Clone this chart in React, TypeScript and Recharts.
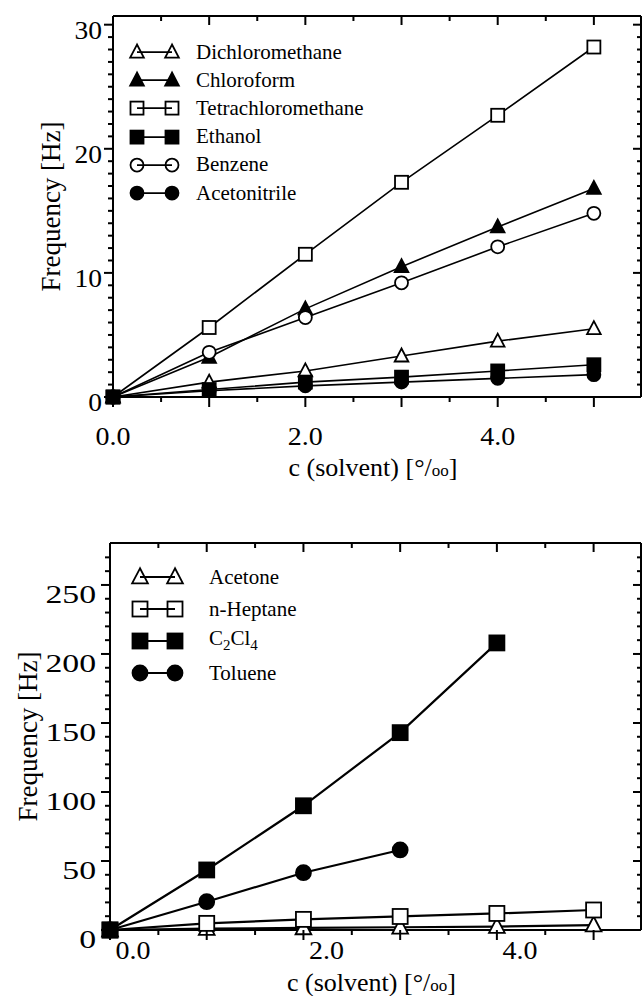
import React from 'react';
import { LineChart, Line, XAxis, YAxis, Legend } from 'recharts';

const FONT = 'Liberation Serif, Tinos, DejaVu Serif, serif';

// upper panel: c (solvent) in per mille vs. frequency shift in Hz
const concUpper = [0, 1, 2, 3, 4, 5];
const dichloromethane = [0, 1.2, 2.1, 3.3, 4.5, 5.5];
const chloroform = [0, 3.2, 7.1, 10.5, 13.7, 16.8];
const tetrachloromethane = [0, 5.6, 11.5, 17.3, 22.7, 28.2];
const ethanol = [0, 0.6, 1.2, 1.6, 2.1, 2.6];
const benzene = [0, 3.6, 6.4, 9.2, 12.1, 14.8];
const acetonitrile = [0, 0.5, 0.9, 1.2, 1.5, 1.8];

// lower panel
const concLower = [0, 1, 2, 3, 4, 5];
const acetone = [0, 1.0, 1.5, 2.0, 2.5, 3.5];
const nHeptane = [0, 4.8, 7.7, 9.8, 12.0, 14.5];
const c2cl4 = [0, 43.5, 90, 143, 208, null];
const toluene = [0, 20.5, 41.5, 58, null, null];

const xLabelTicks = [0, 2, 4];
const yLabelTicksUpper = [0, 10, 20, 30];
const yLabelTicksLower = [0, 50, 100, 150, 200, 250];

type Shape = 'triangle' | 'square' | 'circle';

interface Series {
  key: string;
  label: React.ReactNode;
  values: (number | null)[];
  shape: Shape;
  filled: boolean;
}

const upperSeries: Series[] = [
  { key: 'dichloromethane', label: 'Dichloromethane', values: dichloromethane, shape: 'triangle', filled: false },
  { key: 'chloroform', label: 'Chloroform', values: chloroform, shape: 'triangle', filled: true },
  { key: 'tetrachloromethane', label: 'Tetrachloromethane', values: tetrachloromethane, shape: 'square', filled: false },
  { key: 'ethanol', label: 'Ethanol', values: ethanol, shape: 'square', filled: true },
  { key: 'benzene', label: 'Benzene', values: benzene, shape: 'circle', filled: false },
  { key: 'acetonitrile', label: 'Acetonitrile', values: acetonitrile, shape: 'circle', filled: true },
];

const lowerSeries: Series[] = [
  { key: 'acetone', label: 'Acetone', values: acetone, shape: 'triangle', filled: false },
  { key: 'nHeptane', label: 'n-Heptane', values: nHeptane, shape: 'square', filled: false },
  {
    key: 'c2cl4',
    label: (
      <>
        C<sub style={{ fontSize: 15 }}>2</sub>Cl<sub style={{ fontSize: 15 }}>4</sub>
      </>
    ),
    values: c2cl4,
    shape: 'square',
    filled: true,
  },
  { key: 'toluene', label: 'Toluene', values: toluene, shape: 'circle', filled: true },
];

function buildRows(xs: number[], series: Series[]) {
  return xs.map((c, i) => {
    const row: Record<string, number | null> = { c };
    series.forEach((s) => {
      row[s.key] = s.values[i];
    });
    return row;
  });
}

const upperRows = buildRows(concUpper, upperSeries);
const lowerRows = buildRows(concLower, lowerSeries);

// tick positions (minor + major)
const halfSteps: number[] = [];
for (let i = 0; i <= 10; i++) halfSteps.push(i * 0.5);
const upperYTicks: number[] = [];
for (let i = 0; i <= 30; i++) upperYTicks.push(i);
const lowerYTicks: number[] = [];
for (let i = 0; i <= 27; i++) lowerYTicks.push(i * 10);

const axisStyle = { stroke: '#000', strokeWidth: 2 };

function Marker({ cx, cy, shape, filled, size, openFill = '#fff' }: {
  cx: number; cy: number; shape: Shape; filled: boolean; size: number; openFill?: string;
}) {
  const h = size / 2;
  const paint = { fill: filled ? '#000' : openFill, stroke: '#000', strokeWidth: 1.8 };
  if (shape === 'square') {
    return <rect x={cx - h} y={cy - h} width={size} height={size} {...paint} />;
  }
  if (shape === 'circle') {
    return <circle cx={cx} cy={cy} r={h} {...paint} />;
  }
  const pts = `${cx},${cy - size * 0.58} ${cx - h * 1.05},${cy + size * 0.42} ${cx + h * 1.05},${cy + size * 0.42}`;
  return <polygon points={pts} strokeLinejoin="miter" {...paint} />;
}

const dotFor = (s: Series, size: number) => (p: any) => {
  const k = `${s.key}-${p.index}`;
  if (p.cx == null || p.cy == null || p.value == null) return <g key={k} />;
  return (
    <g key={k}>
      <Marker cx={p.cx} cy={p.cy} shape={s.shape} filled={s.filled} size={size} />
    </g>
  );
};

function PanelLegend({ items, rowH, size, x1, x2, textX }: {
  items: Series[]; rowH: number; size: number; x1: number; x2: number; textX: number;
}) {
  return (
    <div style={{ fontFamily: FONT, fontSize: 21, color: '#000' }}>
      {items.map((s) => (
        <div key={s.key} style={{ display: 'flex', alignItems: 'center', height: rowH }}>
          <svg width={textX} height={rowH} style={{ flex: 'none' }}>
            <line x1={x1} x2={x2} y1={rowH / 2} y2={rowH / 2} stroke="#000" strokeWidth={1.8} />
            <Marker cx={x1} cy={rowH / 2} shape={s.shape} filled={s.filled} size={size} openFill="none" />
            <Marker cx={x2} cy={rowH / 2} shape={s.shape} filled={s.filled} size={size} openFill="none" />
          </svg>
          <span style={{ whiteSpace: 'nowrap', lineHeight: 1 }}>{s.label}</span>
        </div>
      ))}
    </div>
  );
}

// the scanned figure has slightly widened tick numerals
function WideText({ x, y, anchor, stretch, children }: {
  x: number; y: number; anchor: 'end' | 'middle'; stretch: number; children: React.ReactNode;
}) {
  return (
    <g transform={`translate(${x} ${y}) scale(${stretch} 1)`}>
      <text x={0} y={0} textAnchor={anchor} dominantBaseline="central" fontFamily={FONT} fontSize={25} fill="#000">
        {children}
      </text>
    </g>
  );
}

// bottom x axis: ticks hang below the line, labels at 0.0 / 2.0 / 4.0
const bottomTick = (labelDy: number, labelDx: number) => (p: any) => {
  const v = p.payload.value;
  const major = Number.isInteger(v);
  const labelled = xLabelTicks.includes(v);
  return (
    <g>
      <line x1={p.x} x2={p.x} y1={p.y} y2={p.y + (major ? 10 : 5)} stroke="#000" strokeWidth={2} />
      {labelled && (
        <WideText x={p.x + labelDx} y={p.y + labelDy} anchor="middle" stretch={1.12}>
          {v.toFixed(1)}
        </WideText>
      )}
    </g>
  );
};

const topTick = (p: any) => {
  const major = Number.isInteger(p.payload.value);
  return <line x1={p.x} x2={p.x} y1={p.y} y2={p.y + (major ? 9 : 5)} stroke="#000" strokeWidth={2} />;
};

const leftTick = (labels: number[], gap: number, dy: number, stretch: number) => (p: any) => {
  const v = p.payload.value;
  const major = labels.includes(v);
  return (
    <g>
      <line x1={p.x - (major ? 9 : 5)} x2={p.x} y1={p.y} y2={p.y} stroke="#000" strokeWidth={2} />
      {major && (
        <WideText x={p.x - gap} y={p.y + dy} anchor="end" stretch={stretch}>
          {v}
        </WideText>
      )}
    </g>
  );
};

const rightTick = (labels: number[]) => (p: any) => {
  const major = labels.includes(p.payload.value);
  return <line x1={p.x - (major ? 8 : 4)} x2={p.x} y1={p.y} y2={p.y} stroke="#000" strokeWidth={2} />;
};

const xTitle = (dy: number) => (p: any) => {
  const vb = p.viewBox;
  return (
    <text x={vb.x + vb.width / 2 - 4} y={vb.y + dy} textAnchor="middle" dominantBaseline="central"
      fontFamily={FONT} fontSize={26} fill="#000">
      c (solvent) [°/<tspan fontSize={17} dy={3}>oo</tspan><tspan dy={-3}>]</tspan>
    </text>
  );
};

const yTitle = (cx: number) => (p: any) => {
  const vb = p.viewBox;
  const cy = vb.y + vb.height / 2;
  return (
    <text x={cx} y={cy} transform={`rotate(-90 ${cx} ${cy})`} textAnchor="middle" dominantBaseline="central"
      fontFamily={FONT} fontSize={27} fill="#000">
      Frequency [Hz]
    </text>
  );
};

function Panel({ rows, series, yMax, yTicks, yLabels, height, margin, xAxisH, yAxisW, lineW, markSize,
  xLabelDy, xLabelDx, xTitleDy, yLabelGap, yLabelDy, yStretch, yTitleX, legend }: any) {
  return (
    <LineChart width={643} height={height} data={rows} margin={margin}>
      <XAxis xAxisId="b" type="number" dataKey="c" domain={[0, 5.49]} ticks={halfSteps} interval={0}
        tickSize={0} tickMargin={0} tickLine={false} axisLine={axisStyle} height={xAxisH}
        tick={bottomTick(xLabelDy, xLabelDx)} label={{ content: xTitle(xTitleDy) }} />
      <XAxis xAxisId="t" orientation="top" type="number" dataKey="c" domain={[0, 5.49]} ticks={halfSteps}
        interval={0} tickSize={0} tickMargin={0} tickLine={false} axisLine={axisStyle} height={1} tick={topTick} />
      <YAxis yAxisId="l" type="number" domain={[0, yMax]} ticks={yTicks} interval={0} tickSize={0}
        tickMargin={0} tickLine={false} axisLine={axisStyle} width={yAxisW}
        tick={leftTick(yLabels, yLabelGap, yLabelDy, yStretch)} label={{ content: yTitle(yTitleX) }} />
      <YAxis yAxisId="r" orientation="right" type="number" domain={[0, yMax]} ticks={yTicks} interval={0}
        tickSize={0} tickMargin={0} tickLine={false} axisLine={axisStyle} width={1} tick={rightTick(yLabels)} />
      <Legend layout="vertical" align="center" verticalAlign="middle"
        wrapperStyle={{ left: legend.left, top: legend.top, width: 'auto', height: 'auto' }}
        content={() => (
          <PanelLegend items={series} rowH={legend.rowH} size={legend.size} x1={legend.x1} x2={legend.x2}
            textX={legend.textX} />
        )} />
      {/* keeps the frame axes tied to the data */}
      <Line xAxisId="t" yAxisId="r" dataKey={series[0].key} stroke="none" dot={false} legendType="none"
        isAnimationActive={false} />
      {series.map((s: Series) => (
        <Line key={s.key} xAxisId="b" yAxisId="l" dataKey={s.key} name={s.key} stroke="#000"
          strokeWidth={lineW} dot={dotFor(s, markSize)} activeDot={false} isAnimationActive={false} />
      ))}
    </LineChart>
  );
}

export default function App() {
  return (
    <div style={{ position: 'fixed', left: 0, top: 0, width: 643, height: 996, background: '#fff' }}>
      <div style={{ position: 'absolute', left: 0, top: 0 }}>
        <Panel rows={upperRows} series={upperSeries} yMax={30.7} yTicks={upperYTicks} yLabels={yLabelTicksUpper}
          height={500} margin={{ top: 15, right: 1, bottom: 43, left: 50 }} xAxisH={60} yAxisW={63}
          lineW={1.6} markSize={13} xLabelDy={40} xLabelDx={0} xTitleDy={70} yLabelGap={11} yLabelDy={6}
          yStretch={1.1} yTitleX={51}
          legend={{ left: 128, top: 38, rowH: 28.2, size: 13, x1: 9, x2: 44, textX: 68 }} />
      </div>
      <div style={{ position: 'absolute', left: 0, top: 500 }}>
        <Panel rows={lowerRows} series={lowerSeries} yMax={280.4} yTicks={lowerYTicks} yLabels={yLabelTicksLower}
          height={496} margin={{ top: 42, right: 1, bottom: 26, left: 50 }} xAxisH={40} yAxisW={60}
          lineW={2.2} markSize={15} xLabelDy={21} xLabelDx={23} xTitleDy={52} yLabelGap={14} yLabelDy={10}
          yStretch={1.35} yTitleX={28}
          legend={{ left: 128, top: 61, rowH: 32, size: 15, x1: 12, x2: 47, textX: 81 }} />
      </div>
    </div>
  );
}
